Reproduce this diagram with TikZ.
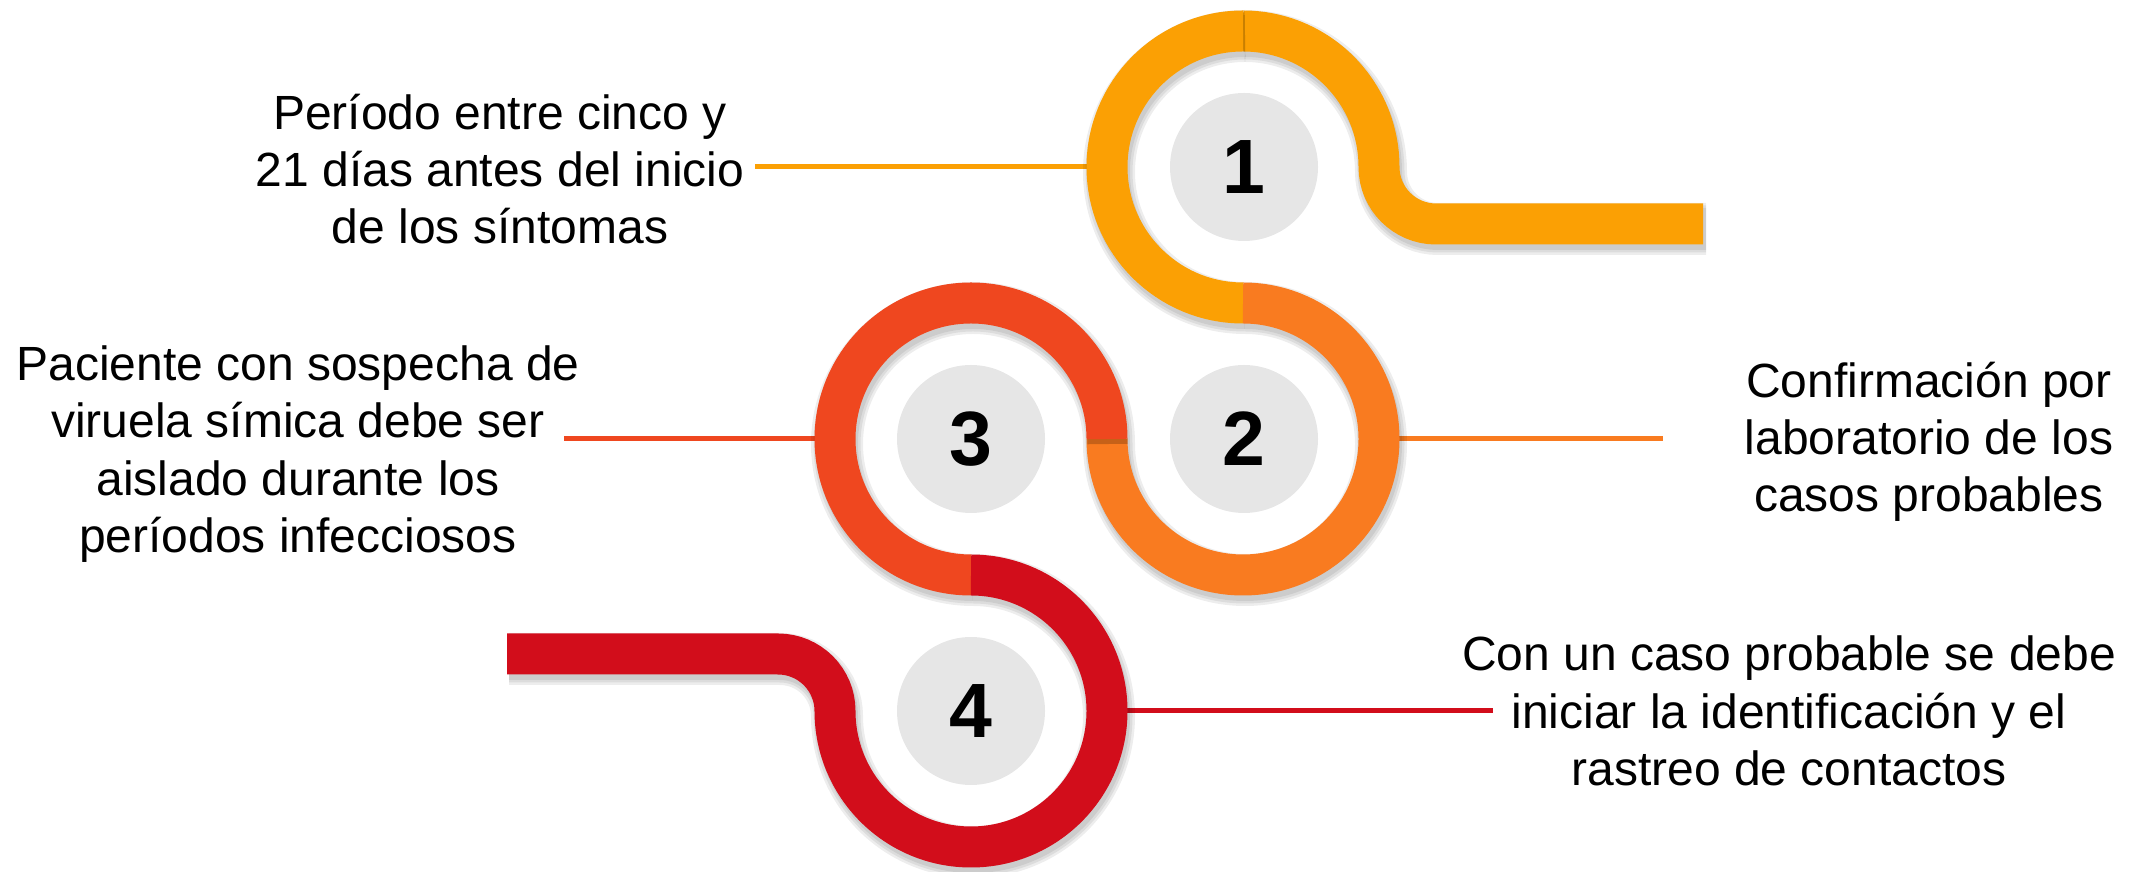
\documentclass[tikz,border=0pt]{standalone}
\usepackage{fontspec}
\setmainfont{Liberation Sans}
\definecolor{ringA}{HTML}{FBA004}
\definecolor{ringB}{HTML}{F97B20}
\definecolor{ringC}{HTML}{EF471F}
\definecolor{ringD}{HTML}{D20D1B}
\definecolor{disc}{HTML}{E6E6E6}
\begin{document}
\begin{tikzpicture}[x=0.5pt,y=0.5pt,
  band/.style={line width=20.5pt},
  shd/.style={draw=black, line width=#1, opacity=0.07},
  lbl/.style={align=center, font=\fontsize{24}{28.6}\selectfont, inner sep=0pt},
  num/.style={circle, fill=disc, minimum size=74pt, inner sep=0pt, font=\fontsize{38.5}{38.5}\selectfont\bfseries},
  conn/.style={line width=2.5pt}]
\useasboundingbox (0,0) rectangle (2131,872);

% text nodes
\node[lbl] (t1) at (500,703) {Período entre cinco y\\21 días antes del inicio\\de los síntomas};
\node[lbl] (t3) at (298,418) {Paciente con sospecha de\\viruela símica debe ser\\aislado durante los\\períodos infecciosos};
\node[lbl] (t2) at (1929,430) {Confirmación por\\laboratorio de los\\casos probables};
\node[lbl] (t4) at (1789,161) {Con un caso probable se debe\\iniciar la identificación y el\\rastreo de contactos};

% connector end points
\coordinate (a1) at (755,705);  \coordinate (b1) at (1090,705);
\coordinate (a2) at (1396,433); \coordinate (b2) at (1663,433);
\coordinate (a3) at (564,433);  \coordinate (b3) at (818,433);
\coordinate (a4) at (1124,161); \coordinate (b4) at (1493,161);
\draw[conn, ringA] (a1) -- (b1);
\draw[conn, ringB] (a2) -- (b2);
\draw[conn, ringC] (a3) -- (b3);
\draw[conn, ringD] (a4) -- (b4);

% ring 1, right part with bar
\foreach \w in {21pt,23.5pt,26pt}
  \draw[shd=\w] (1245,836) arc[start angle=90,end angle=0,radius=68pt] arc[start angle=180,end angle=270,radius=28.5pt] -- (1706,643);
\draw[band, ringA] (1243,841) arc[start angle=90,end angle=0,radius=68pt] arc[start angle=180,end angle=270,radius=28.5pt] -- (1703,648);
% ring 1, left half
\foreach \w in {21pt,23.5pt,26pt}
  \draw[shd=\w] (1245,836) arc[start angle=90,end angle=270,radius=68pt];
\draw[band, ringA] (1243,841) arc[start angle=90,end angle=270,radius=68pt];
% ring 2
\foreach \w in {21pt,23.5pt,26pt}
  \draw[shd=\w] (1245,564) arc[start angle=90,end angle=-180,radius=68pt];
\draw[band, ringB] (1243,569) arc[start angle=90,end angle=-180,radius=68pt];
% ring 3
\foreach \w in {21pt,23.5pt,26pt}
  \draw[shd=\w] (1109,428) arc[start angle=0,end angle=270,radius=68pt];
\draw[band, ringC] (1107,433) arc[start angle=0,end angle=270,radius=68pt];
% ring 4 with bar
\foreach \w in {21pt,23.5pt,26pt}
  \draw[shd=\w] (973,292) arc[start angle=90,end angle=-180,radius=68pt] arc[start angle=0,end angle=90,radius=28.5pt] -- (509,213);
\draw[band, ringD] (971,297) arc[start angle=90,end angle=-180,radius=68pt] arc[start angle=0,end angle=90,radius=28.5pt] -- (507,218);

% numbered discs
\node[num] (g1) at (1244,705) {1};
\node[num] (g2) at (1244,433) {2};
\node[num] (g3) at (971,433) {3};
\node[num] (g4) at (971,161) {4};
\end{tikzpicture}
\end{document}
